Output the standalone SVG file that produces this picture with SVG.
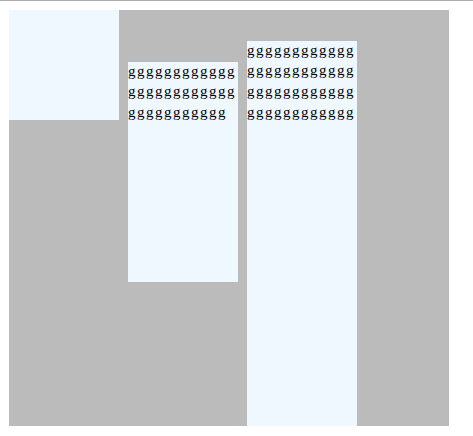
<svg xmlns="http://www.w3.org/2000/svg" width="473" height="436" viewBox="0 0 473 436">
  <style>
    .box { fill: #f0f8ff; }
    .t { font-family: "Liberation Serif", "Times New Roman", serif; font-size: 15px; letter-spacing: 1.5px; fill: #000; }
  </style>
  <rect x="0" y="0" width="473" height="436" fill="#ffffff"/>
  <line x1="0" y1="0.5" x2="473" y2="0.5" stroke="#aaaaaa" stroke-width="1"/>
  <rect id="canvas" x="9" y="10" width="440" height="416" fill="#bbbbbb"/>
  <g id="node1">
    <rect class="box" x="9" y="10" width="110" height="110"/>
  </g>
  <g id="node2">
    <rect class="box" x="128" y="62" width="110" height="220"/>
    <text class="t" x="128" y="75.5">gggggggggggg</text>
    <text class="t" x="128" y="96.2">gggggggggggg</text>
    <text class="t" x="128" y="116.9">ggggggggggg</text>
  </g>
  <g id="node3">
    <rect class="box" x="247" y="41" width="110" height="385"/>
    <text class="t" x="247" y="54.5">gggggggggggg</text>
    <text class="t" x="247" y="75.2">gggggggggggg</text>
    <text class="t" x="247" y="95.9">gggggggggggg</text>
    <text class="t" x="247" y="116.6">gggggggggggg</text>
  </g>
</svg>
